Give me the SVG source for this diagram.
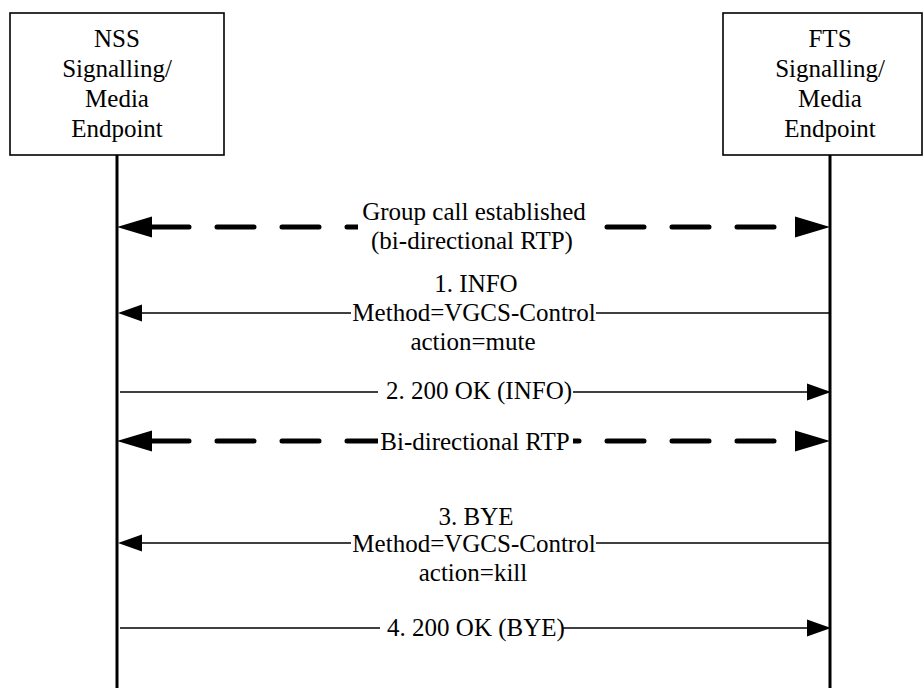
<svg xmlns="http://www.w3.org/2000/svg" width="924" height="688" viewBox="0 0 924 688">
  <defs>
    <style>
      .box { fill: #ffffff; stroke: #000000; stroke-width: 1.6; }
      .life { stroke: #000000; stroke-width: 3; fill: none; }
      .lbl { font-size: 25px; fill: #000000; text-anchor: middle; }
      .msg { stroke: #000000; stroke-width: 1.5; fill: none; }
      .media { stroke: #000000; stroke-width: 5; fill: none; stroke-linecap: round; stroke-dasharray: 37 28; }
      .mask { fill: #ffffff; stroke: none; }
    </style>
    <!-- thin filled arrowhead, reference point at the back edge -->
    <marker id="head" markerUnits="userSpaceOnUse" markerWidth="24" markerHeight="17" refX="0" refY="8.5" orient="auto-start-reverse" overflow="visible">
      <path d="M0,0 L24,8.5 L0,17 Z" fill="#000000"/>
    </marker>
    <!-- large filled arrowhead for the media streams -->
    <marker id="bighead" markerUnits="userSpaceOnUse" markerWidth="35" markerHeight="21" refX="0" refY="10.5" orient="auto-start-reverse" overflow="visible">
      <path d="M0,0 L35,10.5 L0,21 Z" fill="#000000"/>
    </marker>
  </defs>

  <rect width="924" height="688" fill="#ffffff"/>

  <g font-family="'Liberation Serif', Tinos, 'DejaVu Serif', 'Times New Roman', serif">
  <!-- endpoints -->
  <g id="nss">
    <rect class="box" x="10" y="13" width="214" height="142"/>
    <text class="lbl" x="117" y="47">NSS</text>
    <text class="lbl" x="117" y="77">Signalling/</text>
    <text class="lbl" x="117" y="107">Media</text>
    <text class="lbl" x="117" y="137">Endpoint</text>
    <line class="life" x1="117" y1="155" x2="117" y2="688"/>
  </g>
  <g id="fts">
    <rect class="box" x="723" y="13" width="199" height="142"/>
    <text class="lbl" x="830" y="47">FTS</text>
    <text class="lbl" x="830" y="77">Signalling/</text>
    <text class="lbl" x="830" y="107">Media</text>
    <text class="lbl" x="830" y="137">Endpoint</text>
    <line class="life" x1="830" y1="155" x2="830" y2="688"/>
  </g>

  <!-- messages and media streams -->
  <g id="connectors">
    <!-- group call established -->
    <path class="media" d="M152,227 H795" marker-start="url(#bighead)" marker-end="url(#bighead)"/>
    <rect class="mask" x="358" y="203" width="232" height="31"/>
    <text class="lbl" x="474" y="220">Group call established</text>
    <text class="lbl" x="472" y="249">(bi-directional RTP)</text>

    <!-- 1. INFO -->
    <path class="msg" d="M830,313 H142" marker-end="url(#head)"/>
    <rect class="mask" x="351" y="302" width="245" height="24"/>
    <text class="lbl" x="476" y="292">1. INFO</text>
    <text class="lbl" x="474" y="321">Method=VGCS-Control</text>
    <text class="lbl" x="473" y="350">action=mute</text>

    <!-- 2. 200 OK (INFO) -->
    <path class="msg" d="M120,392 H807" marker-end="url(#head)"/>
    <rect class="mask" x="378" y="380" width="195" height="24"/>
    <text class="lbl" x="479" y="399">2. 200 OK (INFO)</text>

    <!-- bi-directional RTP -->
    <path class="media" d="M152,441 H795" marker-start="url(#bighead)" marker-end="url(#bighead)"/>
    <rect class="mask" x="378" y="428" width="195" height="26"/>
    <text class="lbl" x="475" y="450">Bi-directional RTP</text>

    <!-- 3. BYE -->
    <path class="msg" d="M830,543 H142" marker-end="url(#head)"/>
    <rect class="mask" x="351" y="532" width="245" height="24"/>
    <text class="lbl" x="476" y="525">3. BYE</text>
    <text class="lbl" x="474" y="552">Method=VGCS-Control</text>
    <text class="lbl" x="473" y="581">action=kill</text>

    <!-- 4. 200 OK (BYE) -->
    <path class="msg" d="M120,628 H807" marker-end="url(#head)"/>
    <rect class="mask" x="380" y="616" width="183" height="24"/>
    <text class="lbl" x="476" y="636">4. 200 OK (BYE)</text>
  </g>
  </g>
</svg>
